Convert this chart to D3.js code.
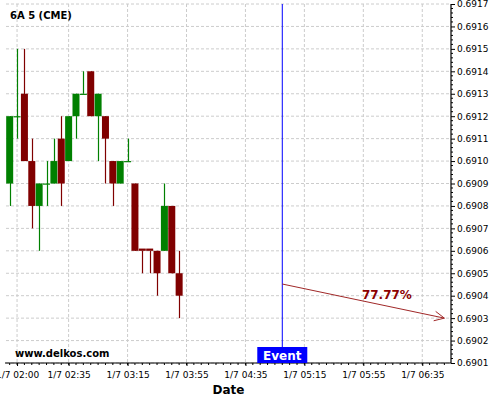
<!DOCTYPE html>
<html>
<head>
<meta charset="utf-8">
<script src="https://cdn.jsdelivr.net/npm/d3@7"></script>
<style>
    html, body { margin: 0; padding: 0; background: #ffffff; }
    svg { display: block; font-family: 'DejaVu Sans', sans-serif; }
</style>
</head>
<body>
<div id="chart"></div>
<script>
// Candle data (5 minute bars, 1/7)
const times = ['01:55', '02:00', '02:05', '02:10', '02:15', '02:20', '02:25', '02:30',
    '02:35', '02:40', '02:45', '02:50', '02:55', '03:00', '03:05', '03:10',
    '03:15', '03:20', '03:25', '03:30', '03:35', '03:40', '03:45', '03:50'];
const opens = [0.6909, 0.6912, 0.6913, 0.6910, 0.6908, 0.6909, 0.6909, 0.6911,
    0.6910, 0.6912, 0.6913, 0.6914, 0.6912, 0.6912, 0.6910, 0.6909,
    0.6910, 0.6909, 0.69061, 0.69061, 0.6906, 0.6906, 0.6908, 0.6905];
const highs = [0.6912, 0.6915, 0.6915, 0.6911, 0.6909, 0.6910, 0.6911, 0.6912,
    0.6912, 0.6913, 0.6914, 0.6914, 0.6913, 0.6912, 0.6910, 0.6910,
    0.6911, 0.6909, 0.6906, 0.6906, 0.6906, 0.6909, 0.6908, 0.6906];
const lows = [0.6908, 0.6911, 0.6910, 0.6907, 0.6906, 0.6908, 0.6909, 0.6908,
    0.6910, 0.6911, 0.6913, 0.6912, 0.6910, 0.6909, 0.6908, 0.6909,
    0.6910, 0.6906, 0.6905, 0.6905, 0.6904, 0.6906, 0.6905, 0.6903];
const closes = [0.6912, 0.6912, 0.6910, 0.6908, 0.6909, 0.6909, 0.6910, 0.6909,
    0.6912, 0.6913, 0.6913, 0.6912, 0.6913, 0.6911, 0.6909, 0.6910,
    0.6910, 0.6906, 0.6906, 0.6906, 0.6905, 0.6908, 0.6905, 0.6904];

// Axis ticks
const xTickTimes = ['02:00', '02:35', '03:15', '03:55', '04:35', '05:15', '05:55', '06:35'];
const yTickValues = [0.6901, 0.6902, 0.6903, 0.6904, 0.6905, 0.6906, 0.6907, 0.6908, 0.6909,
    0.6910, 0.6911, 0.6912, 0.6913, 0.6914, 0.6915, 0.6916, 0.6917];

// Event and forecast
const eventTime = '05:00';
const forecastStart = { time: '05:00', value: 0.690452 };
const forecastEnd = { time: '06:50', value: 0.6903 };
const forecastLabel = { time: '06:11', value: 0.690385, text: '77.77%' };

const day = '2000-01-07T';
const parseTime = (t) => new Date(day + (t.length === 5 ? t + ':00' : t) + 'Z');

const width = 500;
const height = 400;
const plot = { left: 6, right: 451, top: 4, bottom: 363 };

const svg = d3
    .select('#chart')
    .append('svg')
    .attr('width', width)
    .attr('height', height);

const xScale = d3
    .scaleUtc()
    .domain([parseTime('01:52:30'), parseTime('06:54:30')])
    .range([plot.left, plot.right]);

const yScale = d3
    .scaleLinear()
    .domain([0.6901, 0.6917])
    .range([plot.bottom, plot.top]);

const green = '#008000';
const red = '#800000';
const grid = '#cccccc';

// Gridlines
svg.append('g')
    .selectAll('line')
    .data(yTickValues)
    .enter()
    .append('line')
    .attr('x1', plot.left)
    .attr('x2', plot.right)
    .attr('y1', (d) => yScale(d))
    .attr('y2', (d) => yScale(d))
    .attr('stroke', grid)
    .attr('stroke-dasharray', '3,2');

svg.append('g')
    .selectAll('line')
    .data(xTickTimes)
    .enter()
    .append('line')
    .attr('x1', (d) => xScale(parseTime(d)))
    .attr('x2', (d) => xScale(parseTime(d)))
    .attr('y1', plot.top)
    .attr('y2', plot.bottom)
    .attr('stroke', grid)
    .attr('stroke-dasharray', '3,2');

// Candles
const candles = times.map((t, i) => ({
    date: parseTime(t),
    open: opens[i],
    high: highs[i],
    low: lows[i],
    close: closes[i],
}));

const step = xScale(parseTime('02:05')) - xScale(parseTime('02:00'));
const bodyWidth = step * 0.95;

const candleGroup = svg.append('g');

candleGroup
    .selectAll('.wick')
    .data(candles)
    .enter()
    .append('line')
    .attr('class', 'wick')
    .attr('x1', (d) => Math.round(xScale(d.date)) + 0.5)
    .attr('x2', (d) => Math.round(xScale(d.date)) + 0.5)
    .attr('y1', (d) => yScale(d.high))
    .attr('y2', (d) => yScale(d.low))
    .attr('stroke', (d) => (d.close >= d.open ? green : red))
    .attr('stroke-width', 1.2);

candleGroup
    .selectAll('.body')
    .data(candles)
    .enter()
    .append('rect')
    .attr('class', 'body')
    .attr('x', (d) => xScale(d.date) - bodyWidth / 2)
    .attr('y', (d) => yScale(Math.max(d.open, d.close)))
    .attr('width', bodyWidth)
    .attr('height', (d) => Math.max(1.2, Math.abs(yScale(d.open) - yScale(d.close))))
    .attr('fill', (d) => (d.close >= d.open ? green : red));

// Right axis
const yAxis = svg
    .append('g')
    .attr('transform', `translate(${plot.right},0)`)
    .call(d3.axisRight(yScale).tickValues(yTickValues).tickFormat(d3.format('.4f')).tickSize(4).tickPadding(2));

const yMinor = [];
for (let i = 0; i < yTickValues.length - 1; i++) {
    for (let k = 1; k < 5; k++) {
        yMinor.push(yTickValues[i] + (k * 0.0001) / 5);
    }
}
svg.append('g')
    .selectAll('line')
    .data(yMinor)
    .enter()
    .append('line')
    .attr('x1', plot.right)
    .attr('x2', plot.right + 2)
    .attr('y1', (d) => yScale(d))
    .attr('y2', (d) => yScale(d))
    .attr('stroke', '#000');

// Bottom axis
const xAxis = svg
    .append('g')
    .attr('transform', `translate(0,${plot.bottom})`)
    .call(
        d3.axisBottom(xScale)
            .tickValues(xTickTimes.map(parseTime))
            .tickFormat(d3.utcFormat('%-m/%-d %H:%M'))
            .tickSize(3)
            .tickPadding(6)
    );

const xMinor = d3.utcMinute.every(5).range(xScale.domain()[0], xScale.domain()[1]);
svg.append('g')
    .selectAll('line')
    .data(xMinor)
    .enter()
    .append('line')
    .attr('x1', (d) => xScale(d))
    .attr('x2', (d) => xScale(d))
    .attr('y1', plot.bottom)
    .attr('y2', plot.bottom + 2)
    .attr('stroke', '#000');

[xAxis, yAxis].forEach((axis) => {
    axis.select('.domain').attr('stroke', '#000').attr('stroke-width', 1.2);
    axis.selectAll('text')
        .style('font-family', 'DejaVu Sans')
        .style('font-size', '9px')
        .attr('fill', '#000');
});
yAxis.select('.domain').attr('d', `M0,${plot.top}V${plot.bottom}`);
xAxis.select('.domain').attr('d', `M${plot.left - 1},0H${plot.right}`);

// Event marker
const ex = xScale(parseTime(eventTime));
svg.append('line')
    .attr('x1', ex)
    .attr('x2', ex)
    .attr('y1', plot.top)
    .attr('y2', plot.bottom)
    .attr('stroke', '#0000ff')
    .attr('stroke-width', 1);

svg.append('rect')
    .attr('x', ex - 25)
    .attr('y', plot.bottom - 16)
    .attr('width', 50)
    .attr('height', 16)
    .attr('fill', '#0000ff');

svg.append('text')
    .attr('x', ex)
    .attr('y', plot.bottom - 3.5)
    .attr('text-anchor', 'middle')
    .style('font-size', '12px')
    .style('font-weight', 'bold')
    .attr('fill', '#ffffff')
    .text('Event');

// Forecast arrow
const ax1 = xScale(parseTime(forecastStart.time));
const ay1 = yScale(forecastStart.value);
const ax2 = xScale(parseTime(forecastEnd.time));
const ay2 = yScale(forecastEnd.value);
const angle = Math.atan2(ay2 - ay1, ax2 - ax1);
const head = 11;
const spread = 0.45;

svg.append('path')
    .attr('d', `M${ax1},${ay1}L${ax2},${ay2}`
        + `M${ax2 - head * Math.cos(angle - spread)},${ay2 - head * Math.sin(angle - spread)}`
        + `L${ax2},${ay2}`
        + `L${ax2 - head * Math.cos(angle + spread)},${ay2 - head * Math.sin(angle + spread)}`)
    .attr('fill', 'none')
    .attr('stroke', '#a02828')
    .attr('stroke-width', 1);

svg.append('text')
    .attr('x', xScale(parseTime(forecastLabel.time)))
    .attr('y', yScale(forecastLabel.value))
    .attr('text-anchor', 'middle')
    .style('font-size', '12px')
    .style('font-weight', 'bold')
    .attr('fill', '#8b0000')
    .text(forecastLabel.text);

// Title, watermark and axis label
svg.append('text')
    .attr('x', 10)
    .attr('y', 19)
    .style('font-size', '10px')
    .style('font-weight', 'bold')
    .text('6A 5 (CME)');

svg.append('text')
    .attr('x', 15)
    .attr('y', 357)
    .style('font-size', '10px')
    .style('font-weight', 'bold')
    .text('www.delkos.com');

svg.append('text')
    .attr('x', (plot.left + plot.right) / 2)
    .attr('y', 394)
    .attr('text-anchor', 'middle')
    .style('font-size', '12px')
    .style('font-weight', 'bold')
    .text('Date');
</script>
</body>
</html>
